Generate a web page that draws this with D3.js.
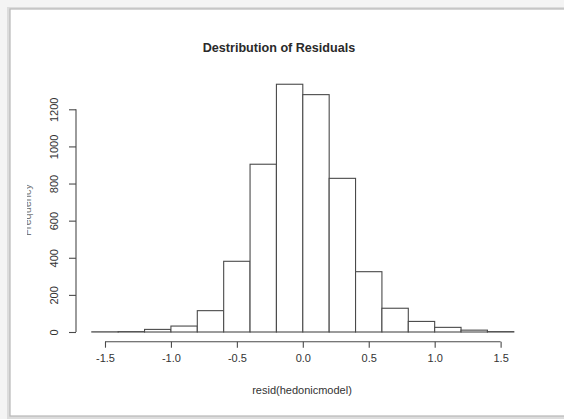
<!DOCTYPE html>
<html>
<head>
<meta charset="utf-8">
<script src="https://cdn.jsdelivr.net/npm/d3@7"></script>
<style>
  body { margin: 0; background: #f4f4f4; }
  svg { display: block; font-family: "Liberation Sans", Arial, sans-serif; }
</style>
</head>
<body>
<svg id="chart" width="564" height="419"></svg>
<script>
// histogram bins (width 0.2) and counts
var binEdges = [-1.6, -1.4, -1.2, -1.0, -0.8, -0.6, -0.4, -0.2, 0.0, 0.2, 0.4, 0.6, 0.8, 1.0, 1.2, 1.4, 1.6];
var counts = [1, 2, 14, 32, 115, 381, 904, 1335, 1279, 828, 325, 128, 57, 25, 10, 2];
var xTicks = [-1.5, -1.0, -0.5, 0.0, 0.5, 1.0, 1.5];
var yTicks = [0, 200, 400, 600, 800, 1000, 1200];

var bins = counts.map((c, i) => ({x0: binEdges[i], x1: binEdges[i + 1], n: c}));

var svg = d3.select('#chart');

// screenshot frame
svg.append('rect').attr('x', 7).attr('y', 7).attr('width', 562).attr('height', 412)
  .attr('fill', '#dcdcdc');
svg.append('rect').attr('x', 10).attr('y', 9).attr('width', 556).attr('height', 407)
  .attr('fill', '#fff').attr('stroke', '#b8b8b8').attr('stroke-width', 1.2);

var xScale = d3.scaleLinear().domain([-1.6, 1.6]).range([91.8, 513.8]);
var yScale = d3.scaleLinear().domain([0, 1200]).range([332, 109.3]);

var ink = '#4a4a4a';

svg.append('text')
  .attr('x', 279).attr('y', 52)
  .attr('text-anchor', 'middle')
  .attr('font-weight', 'bold')
  .attr('font-size', '12.6px')
  .attr('fill', '#2a2a2a')
  .text('Destribution of Residuals');

// bars
svg.append('g').selectAll('rect')
  .data(bins)
  .enter()
  .append('rect')
  .attr('x', d => xScale(d.x0))
  .attr('y', d => yScale(d.n))
  .attr('width', d => xScale(d.x1) - xScale(d.x0))
  .attr('height', d => yScale(0) - yScale(d.n))
  .attr('fill', '#fff')
  .attr('stroke', ink)
  .attr('stroke-width', 1.1);

// x axis (plain hyphen for minus, like R)
var xAxis = d3.axisBottom(xScale).tickValues(xTicks)
  .tickFormat(d => d.toFixed(1).replace('−', '-'))
  .tickSize(6).tickPadding(7);
var gx = svg.append('g')
  .attr('transform', 'translate(0,' + 341.7 + ')')
  .call(xAxis);
gx.select('.domain').attr('d', 'M' + xScale(-1.5) + ',0H' + xScale(1.5));

// y axis
var yAxis = d3.axisLeft(yScale).tickValues(yTicks).tickFormat(d3.format('d')).tickSize(7).tickPadding(0);
var gy = svg.append('g')
  .attr('transform', 'translate(76,0)')
  .call(yAxis);
gy.select('.domain').attr('d', 'M0,' + yScale(0) + 'V' + yScale(1200));
gy.selectAll('.tick text')
  .attr('x', 0).attr('dy', 0)
  .attr('text-anchor', 'middle')
  .attr('transform', 'translate(-18,0) rotate(-90)');

[gx, gy].forEach(g => {
  g.selectAll('.domain, .tick line').attr('stroke', ink).attr('stroke-width', 1.1);
  g.selectAll('.tick text').attr('font-size', '11px').attr('fill', '#333')
    .attr('font-family', '"Liberation Sans", Arial, sans-serif');
});

svg.append('text')
  .attr('x', 302).attr('y', 394)
  .attr('text-anchor', 'middle')
  .attr('font-size', '11px')
  .attr('fill', '#333')
  .text('resid(hedonicmodel)');

// y label, cut off by the screenshot edge
svg.append('defs').append('clipPath').attr('id', 'cut')
  .append('rect').attr('x', 27).attr('y', 150).attr('width', 20).attr('height', 120);
svg.append('g')
  .attr('clip-path', 'url(#cut)')
  .append('text')
  .attr('transform', 'translate(30.5,210) rotate(-90)')
  .attr('text-anchor', 'middle')
  .attr('font-size', '11px')
  .attr('fill', '#777')
  .text('Frequency');
</script>
</body>
</html>
